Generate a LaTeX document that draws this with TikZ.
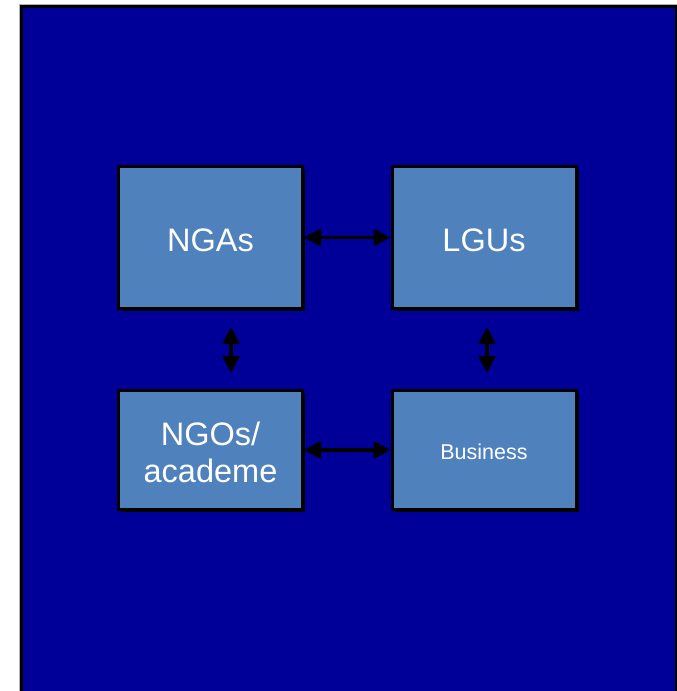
\documentclass[tikz,border=0pt]{standalone}
\usepackage{fontspec}
\setmainfont{Liberation Sans}
\usetikzlibrary{arrows.meta,shadows}
\definecolor{slide}{HTML}{000099}
\definecolor{boxfill}{HTML}{4F81BD}
\tikzset{
  unit box/.style={
    rectangle, fill=boxfill, draw=black, line width=3pt,
    minimum width=184pt, inner sep=0pt,
    drop shadow={shadow xshift=2.5pt, shadow yshift=-2.5pt, opacity=1, fill=black}
  },
  big label/.style={text=white, align=center, yshift=-2.5pt,
    font=\fontsize{32.5}{36.5}\selectfont},
  small label/.style={text=white, align=center, yshift=-2pt,
    font=\fontsize{21.5}{25}\selectfont},
  link/.style={line width=3.5pt, black,
    {Triangle[length=17pt,width=17pt]}-{Triangle[length=17pt,width=17pt]}}
}
\begin{document}
\begin{tikzpicture}[x=1pt,y=-1pt]
\useasboundingbox (0,0) rectangle (677,691);
% page and slide frame
\fill[white] (0,0) rectangle (677,691);
\fill[black] (20,5) rectangle (677,691);
\fill[slide] (22.5,7.5) rectangle (675,691);
\draw[gray!60, line width=1pt] (19.5,691) -- (19.5,4.5) -- (677,4.5);
% the four partners
\node[unit box, minimum height=142pt,
  label={[big label]center:NGAs}] (nga) at (210.5,237.5) {};
\node[unit box, minimum height=142pt,
  label={[big label]center:LGUs}] (lgu) at (484,237.5) {};
\node[unit box, minimum height=119pt,
  label={[big label]center:NGOs/\\academe}] (ngo) at (210.5,450) {};
\node[unit box, minimum height=119pt,
  label={[small label]center:Business}] (biz) at (484,450) {};
% end points of the vertical links
\coordinate (lt) at (231,327);
\coordinate (lb) at (231,373);
\coordinate (rt) at (487,327);
\coordinate (rb) at (487,373);
% links
\draw[link] (nga.east) -- (lgu.west);
\draw[link] (ngo.east) -- (biz.west);
\draw[link] (lt) -- (lb);
\draw[link] (rt) -- (rb);
\end{tikzpicture}
\end{document}
